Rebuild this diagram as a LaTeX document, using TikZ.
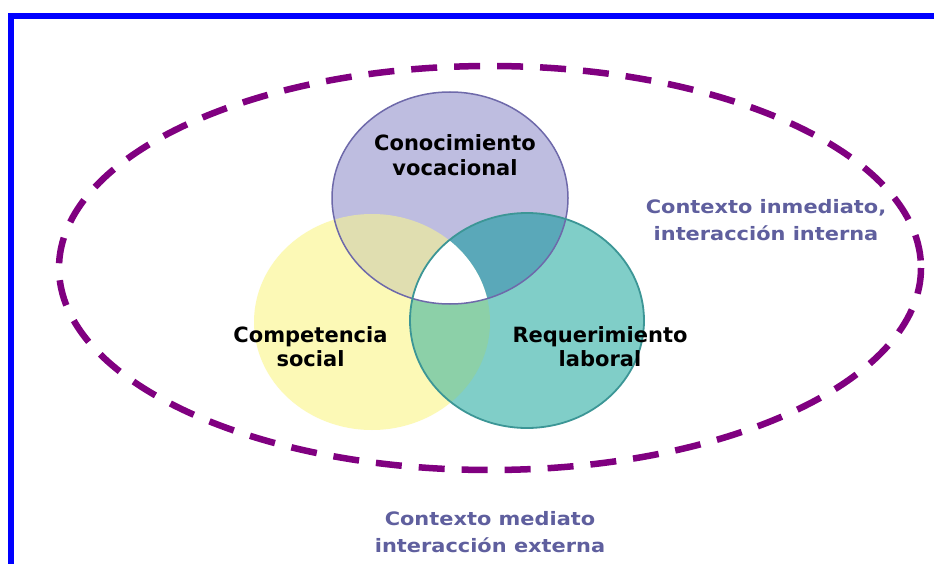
\documentclass[tikz,border=0pt]{standalone}
\usepackage{fontspec}
\setmainfont{DejaVu Sans}
\newfontfamily\widefont{DejaVu Sans}[FakeStretch=1.13]
\definecolor{framebl}{RGB}{0,0,255}
\definecolor{dashpu}{RGB}{128,0,128}
\definecolor{purfill}{RGB}{190,189,224}
\definecolor{purline}{RGB}{110,105,170}
\definecolor{yelfill}{RGB}{252,249,182}
\definecolor{tealfill}{RGB}{128,206,200}
\definecolor{tealline}{RGB}{60,150,150}
\definecolor{pyfill}{RGB}{224,222,176}
\definecolor{ptfill}{RGB}{90,168,185}
\definecolor{ytfill}{RGB}{140,208,168}
\definecolor{ctxtext}{RGB}{95,95,158}
\tikzset{
  blacklabel/.style={inner sep=0pt, align=center, text=black, font=\fontsize{21}{24.5}\selectfont\bfseries},
  ctxlabel/.style={inner sep=0pt, align=center, text=ctxtext, font=\widefont\fontsize{18.5}{27}\selectfont\bfseries},
}
\def\purshape{(450,198) ellipse [x radius=118, y radius=106]}
\def\yelshape{(372,322) ellipse [x radius=118, y radius=108]}
\def\tealshape{(527,320.5) ellipse [x radius=117, y radius=107.5]}
\begin{document}
\begin{tikzpicture}[x=1pt,y=-1pt]
\useasboundingbox (0,0) rectangle (934,564);
\fill[white] (0,0) rectangle (934,564);
% frame
\draw[framebl, line width=6pt] (11,570) -- (11,16) -- (940,16);
% dashed ellipse
\draw[dashpu, line width=6.5pt, dash pattern=on 26pt off 17pt] (490,268) ellipse [x radius=431, y radius=202];
% circles
\fill[yelfill] \yelshape;
\fill[purfill] \purshape;
\fill[tealfill] \tealshape;
\begin{scope}
  \clip \purshape; \fill[pyfill] \yelshape;
\end{scope}
\begin{scope}
  \clip \purshape; \fill[ptfill] \tealshape;
\end{scope}
\begin{scope}
  \clip \yelshape; \fill[ytfill] \tealshape;
\end{scope}
\begin{scope}
  \clip \purshape; \clip \yelshape; \fill[white] \tealshape;
\end{scope}
\draw[purline, line width=1.5pt] \purshape;
\draw[tealline, line width=1.8pt] \tealshape;
% labels
\node[blacklabel] (conoc) at (455,155) {Conocimiento\\vocacional};
\node[blacklabel] (compet) at (310.5,346.5) {Competencia\\social};
\node[blacklabel] (requer) at (600,346.5) {Requerimiento\\laboral};
\node[ctxlabel] (inmed) at (766,220.5) {Contexto inmediato,\\interacción interna};
\node[ctxlabel] (mediato) at (490,532) {Contexto mediato\\interacción externa};
\end{tikzpicture}
\end{document}
